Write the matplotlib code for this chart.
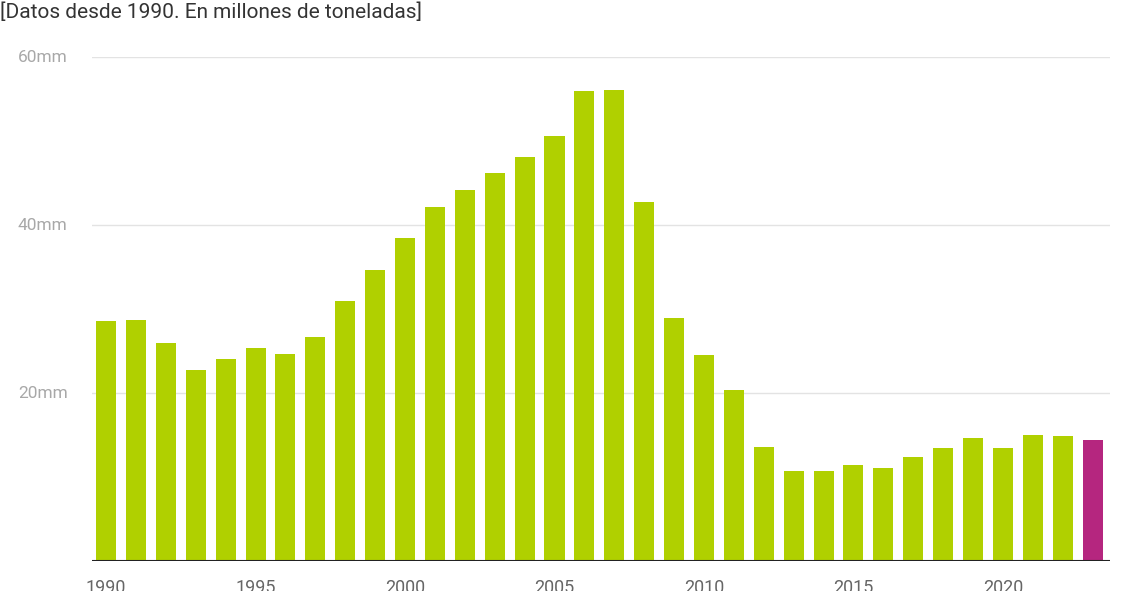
import matplotlib.pyplot as plt

years = list(range(1990, 2024))
values = [28.6, 28.7, 26.0, 22.7, 24.0, 25.4, 24.6, 26.7, 31.0, 34.6,
          38.5, 42.1, 44.2, 46.2, 48.1, 50.6, 56.0, 56.1, 42.7, 28.9,
          24.5, 20.4, 13.6, 10.7, 10.7, 11.4, 11.1, 12.4, 13.5, 14.6,
          13.5, 15.0, 14.9, 14.4]
yticks = [20, 40, 60]
xticks = [1990, 1995, 2000, 2005, 2010, 2015, 2020]

plt.rcParams['font.family'] = ['Roboto', 'DejaVu Sans']
W, H = 1128, 591
fig = plt.figure(figsize=(W / 100, H / 100), dpi=100)
ax = fig.add_axes([92 / W, 1 - 561 / H, (1110 - 92) / W, (561 - 57) / H])

colors = ['#b0d000'] * (len(years) - 1) + ['#b5267f']
ax.bar(years, values, width=0.67, color=colors, zorder=2)
ax.set_xlim(1989.53, 2023.58)
ax.set_ylim(0, 60)

for v in yticks:
    ax.axhline(v, color='#e3e3e3', lw=1, zorder=1)
    ax.text(18 / W, ax.transData.transform((0, v))[1] / H, f'{v}mm',
            transform=fig.transFigure, ha='left', va='center',
            fontsize=12.5, color='#a8a8a8')
ax.axhline(0, color='#222222', lw=1.5, zorder=3)

ax.set_yticks([])
ax.set_xticks(xticks)
ax.set_xticklabels([str(x) for x in xticks], fontsize=13, color='#666666')
ax.tick_params(axis='x', length=0, pad=13)
for s in ax.spines.values():
    s.set_visible(False)

fig.text(0, 1 - 12 / H, '[Datos desde 1990. En millones de toneladas]',
         ha='left', va='center', fontsize=15, color='#333333')

fig.savefig('out.png', dpi=100)
